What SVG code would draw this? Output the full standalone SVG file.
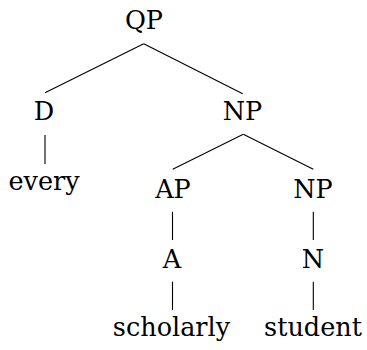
<svg xmlns="http://www.w3.org/2000/svg" width="367" height="350" viewBox="0 0 367 350">
<style>
text{font-family:"DejaVu Serif","Liberation Serif",serif;font-size:25.5px;fill:#000;text-anchor:middle}
line{stroke:#000;stroke-width:1.1}
</style>
<rect width="367" height="350" fill="#fff"/>
<g id="edges">
<line x1="143.7" y1="43.7" x2="45" y2="92.7"/>
<line x1="143.7" y1="43.7" x2="242.7" y2="93.7"/>
<line x1="45" y1="135" x2="45" y2="164"/>
<line x1="243.3" y1="134.3" x2="172.7" y2="169.3"/>
<line x1="243.3" y1="134.3" x2="313.3" y2="169.3"/>
<line x1="172.5" y1="211.7" x2="172.5" y2="240"/>
<line x1="313.3" y1="211.7" x2="313.3" y2="240"/>
<line x1="172.5" y1="281.7" x2="172.5" y2="310"/>
<line x1="313.3" y1="281.7" x2="313.3" y2="310"/>
</g>
<g id="QP"><text x="144" y="29">QP</text></g>
<g id="D"><text x="44" y="120">D</text></g>
<g id="NP1"><text x="242.5" y="120">NP</text></g>
<g id="every"><text x="44" y="190">every</text></g>
<g id="AP"><text x="173" y="198">AP</text></g>
<g id="NP2"><text x="313" y="198">NP</text></g>
<g id="A"><text x="172" y="268">A</text></g>
<g id="N"><text x="313" y="268">N</text></g>
<g id="scholarly"><text x="171.5" y="336">scholarly</text></g>
<g id="student"><text x="313" y="336">student</text></g>
</svg>
